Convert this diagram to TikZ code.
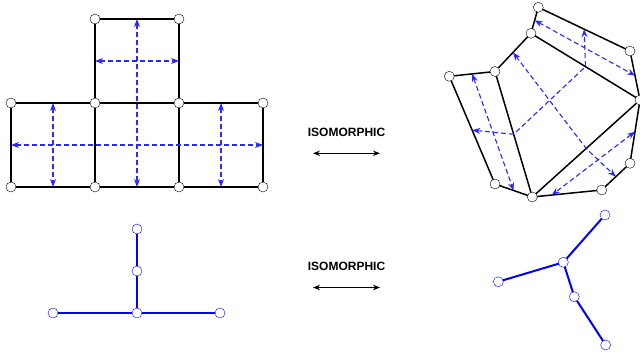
\documentclass[tikz,border=0pt]{standalone}
\usepackage{fontspec}
\newfontfamily\isofont{Liberation Sans}
\usetikzlibrary{arrows.meta,calc}
\usepackage{tkz-euclide}

\definecolor{dualblue}{RGB}{40,40,255}
\tikzset{
  dual/.style={dualblue,line width=1.1pt,dash pattern=on 5pt off 3pt,
    {Stealth[length=8pt,width=6pt]}-{Stealth[length=8pt,width=6pt]}},
  treeline/.style={blue,line width=2pt},
  isolabel/.style={font=\isofont\fontsize{12}{14}\selectfont\bfseries},
  isoarrow/.style={line width=1pt,
    {Stealth[length=7pt,width=5.5pt]}-{Stealth[length=7pt,width=5.5pt]}}
}

\begin{document}
\begin{tikzpicture}[x=1pt,y=-1pt]
\useasboundingbox (0,0) rectangle (640,351);
\tkzSetUpLine[line width=1.5pt,color=black]
\tkzSetUpPoint[fill=white,color=black,size=10]

% Define the T-shaped figure.
\tkzDefPoints{95/19/C1,179/19/C2}
\tkzDefPoints{11/103/A1,95/103/A2,179/103/A3,263/103/A4}
\tkzDefPoints{11/187/B1,95/187/B2,179/187/B3,263/187/B4}

\tkzDrawSegments(C1,C2 C1,A2 C2,A3 A1,A4 B1,B4)
\tkzDrawSegments(A1,B1 A2,B2 A3,B3 A4,B4)

\draw[dual] ($(C1)!.5!(A2)$) -- ($(C2)!.5!(A3)$);
\draw[dual] ($(C1)!.5!(C2)$) -- ($(B2)!.5!(B3)$);
\draw[dual] ($(A1)!.5!(A2)$) -- ($(B1)!.5!(B2)$);
\draw[dual] ($(A3)!.5!(A4)$) -- ($(B3)!.5!(B4)$);
\draw[dual] ($(A1)!.5!(B1)$) -- ($(A4)!.5!(B4)$);

\tkzDrawPoints(C1,C2,A1,A2,A3,A4,B1,B2,B3,B4)

% Define the deformed figure.
\tkzDefPoints{538.3/7.3/P1,630/51/P2,640/100/P3,630/163.3/P4,601.7/190/P5}
\tkzDefPoints{532.3/197/P6,495/184/P7,449.3/76.3/P8,495/71.5/P9,531/33.3/P10}

\tkzDrawPolygon(P1,P2,P3,P4,P5,P6,P7,P8,P9,P10)
\tkzDrawSegments(P9,P6 P10,P3 P3,P6)

\draw[dual] ($(P10)!.5!(P1)$) -- ($(P2)!.5!(P3)$);
\draw[dual] ($(P8)!.5!(P9)$) -- ($(P7)!.5!(P6)$);
\draw[dual] ($(P3)!.5!(P4)$) -- ($(P6)!.28!(P5)$);
\draw[dual] ($(P7)!.5!(P8)$) -- ($(P9)!.5!(P6)$) -- ($(P10)!.5!(P3)$)
  -- ($(P1)!.5!(P2)$);
\draw[dual] ($(P9)!.5!(P10)$) -- ($(P3)!.5!(P6)$) -- ($(P4)!.5!(P5)$);

\tkzDrawPoints(P1,P2,P3,P4,P5,P6,P7,P8,P9,P10)

% The two trees.
\tkzDefPoints{137/229/T1,137/271/T2,137/313/T3,53/313/T4,220/313/T5}
\tkzDefPoints{563.3/262.3/S1,605/215/S2,498.3/281.7/S3,574.3/296.7/S4,605.7/345/S5}

\draw[treeline] (T1) -- (T2) -- (T3);
\draw[treeline] (T4) -- (T3) -- (T5);
\draw[treeline] (S2) -- (S1) -- (S4) -- (S5);
\draw[treeline] (S3) -- (S1);

\tkzDrawPoints[color=blue,fill=white](T1,T2,T3,T4,T5,S1,S2,S3,S4,S5)

\node[isolabel] (iso1) at (346.5,132.5) {ISOMORPHIC};
\node[isolabel] (iso2) at (346.5,266) {ISOMORPHIC};
\coordinate (L1) at (313,153.3);
\coordinate (R1) at (380,153.3);
\coordinate (L2) at (313,287.5);
\coordinate (R2) at (380,287.5);
\draw[isoarrow] (L1) -- (R1);
\draw[isoarrow] (L2) -- (R2);

\end{tikzpicture}
\end{document}
